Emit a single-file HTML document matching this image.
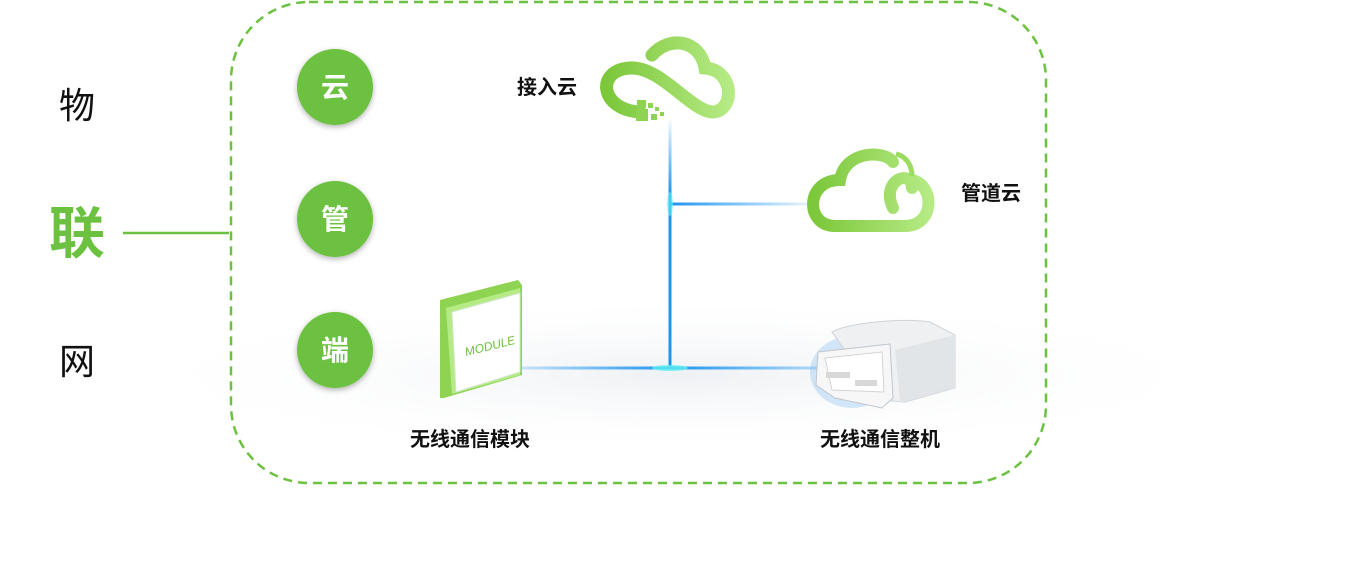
<!DOCTYPE html>
<html><head><meta charset="utf-8"><style>
body{margin:0;width:1362px;height:581px;background:#fff;overflow:hidden;font-family:"Liberation Sans","Noto Sans CJK SC",sans-serif;}
</style></head><body>
<svg width="1362" height="581" xmlns="http://www.w3.org/2000/svg" style="position:absolute;left:0;top:0">
<defs>
<linearGradient id="cg" x1="0" x2="1" y1="0" y2="0"><stop offset="0" stop-color="#7cc73a"/><stop offset="1" stop-color="#b5ea84"/></linearGradient>
<linearGradient id="hb" x1="0" x2="1"><stop offset="0" stop-color="#1e96f0"/><stop offset="1" stop-color="#1e96f0" stop-opacity="0.1"/></linearGradient>
<linearGradient id="vb" x1="0" x2="0" y1="0" y2="1"><stop offset="0" stop-color="#1e96f0" stop-opacity="0.05"/><stop offset="0.3" stop-color="#1e96f0"/><stop offset="1" stop-color="#1e96f0"/></linearGradient>
<linearGradient id="bl" x1="0" x2="1"><stop offset="0" stop-color="#1e96f0" stop-opacity="0.2"/><stop offset="0.5" stop-color="#1e96f0"/><stop offset="1" stop-color="#1e96f0" stop-opacity="0.3"/></linearGradient>
<filter id="sh"><feDropShadow dx="0" dy="2" stdDeviation="3" flood-color="#000" flood-opacity="0.3"/></filter>
<radialGradient id="fl" cx="0.5" cy="0.5" r="0.5"><stop offset="0" stop-color="#eef1f4"/><stop offset="1" stop-color="#fff" stop-opacity="0"/></radialGradient>
</defs>
<ellipse cx="680" cy="375" rx="580" ry="80" fill="url(#fl)"/>
<rect x="231" y="2" width="815" height="481" rx="78" fill="none" stroke="#6cc140" stroke-width="2.5" stroke-dasharray="9,6"/>
<text x="77" y="118" font-size="36" text-anchor="middle" fill="#111">物</text>
<text x="77" y="253" font-size="56" font-weight="bold" text-anchor="middle" fill="#6cc140">联</text>
<text x="77" y="374" font-size="36" text-anchor="middle" fill="#111">网</text>
<line x1="123" y1="233" x2="229" y2="233" stroke="#6cc140" stroke-width="2.5"/>
<g filter="url(#sh)" fill="#6cc140">
<circle cx="335" cy="87" r="38"/><circle cx="335" cy="219" r="38"/><circle cx="335" cy="350" r="38"/></g>
<g fill="#fff" font-size="28" font-weight="bold" text-anchor="middle">
<text x="335" y="97">云</text><text x="335" y="229">管</text><text x="335" y="360">端</text></g>
<rect x="668.5" y="120" width="3" height="248" fill="url(#vb)"/>
<rect x="670" y="202.5" width="140" height="3" fill="url(#hb)"/>
<rect x="520" y="366.5" width="300" height="3" fill="url(#bl)"/>
<ellipse cx="670" cy="368" rx="18" ry="3" fill="#5ff0f0" opacity="0.8"/>
<ellipse cx="670" cy="204" rx="3" ry="12" fill="#5ff0f0" opacity="0.6"/>
<path d="M640 112 C600 110 595 70 630 68 C660 66 690 110 712 112 C735 112 735 70 705 68 C700 40 670 35 652 55" fill="none" stroke="url(#cg)" stroke-width="13" stroke-linecap="round"/>
<g fill="#8fd352"><rect x="637" y="100" width="9" height="8"/><rect x="636" y="109" width="12" height="12"/><rect x="648" y="103" width="5" height="5"/><rect x="651" y="114" width="6" height="6"/><rect x="655" y="107" width="4" height="4"/><rect x="660" y="112" width="4" height="4"/></g>
<text x="547" y="94" font-size="20" font-weight="bold" text-anchor="middle" fill="#111">接入云</text>
<path d="M835 226 C805 226 805 180 840 180 C845 150 885 150 893 162 M912 180 C935 185 935 226 905 226 L835 226 M893 208 C880 180 912 168 912 188" fill="none" stroke="url(#cg)" stroke-width="12" stroke-linecap="round"/>
<path d="M896 154 C905 156 912 164 912 176" fill="none" stroke="#9bdc60" stroke-width="5"/>
<text x="991" y="200" font-size="20" font-weight="bold" text-anchor="middle" fill="#111">管道云</text>
<polygon points="440,300 518,280 522,285 522,375 444,398 440,398" fill="#8fd352"/>
<polygon points="446,308 520,288 520,375 452,394" fill="#b5ea84"/>
<polygon points="452,312 520,293 520,372 456,392" fill="#fff" stroke="#d4e6d0"/>
<text x="490" y="350" font-size="12" font-style="italic" fill="#6cc140" text-anchor="middle" transform="rotate(-14 490 346)">MODULE</text>
<!-- OBD device -->
<ellipse cx="852" cy="372" rx="42" ry="36" fill="#5aa8f0" opacity="0.25"/>
<path d="M832 332 C850 322 905 318 930 322 L955 335 L955 388 L905 402 L880 400 Z" fill="#eef0f2" stroke="#cfd4d8"/>
<path d="M895 350 L955 335 L955 388 L900 403 Z" fill="#e2e5e8"/>
<path d="M818 352 L890 344 L893 398 L882 408 L835 398 L816 385 Z" fill="#f7f7f8" stroke="#c0c6cc"/>
<path d="M825 358 L882 352 L884 392 L832 390 Z" fill="#fff" stroke="#d0d4d8"/>
<rect x="826" y="372" width="24" height="6" fill="#d8d8d8"/><rect x="855" y="380" width="22" height="6" fill="#d8d8d8"/>
<text x="470" y="446" font-size="20" font-weight="bold" text-anchor="middle" fill="#111">无线通信模块</text>
<text x="880" y="446" font-size="20" font-weight="bold" text-anchor="middle" fill="#111">无线通信整机</text>
</svg>
</body></html>
